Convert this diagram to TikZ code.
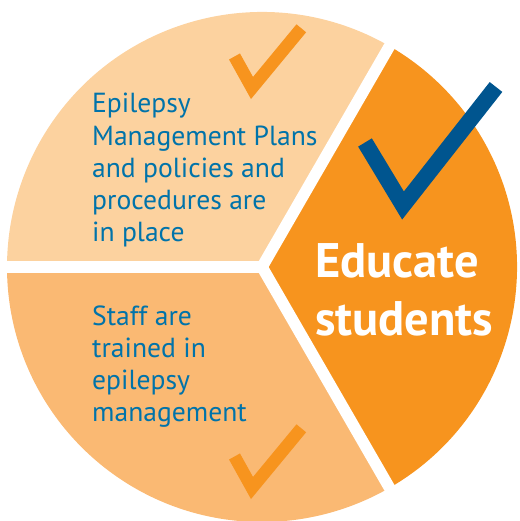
\documentclass[tikz,border=0pt]{standalone}
\usepackage{fontspec}
\setmainfont{PT Sans}
\usepackage{tikz}
\usetikzlibrary{calc}
\definecolor{peachlight}{RGB}{252,210,159}
\definecolor{peachmid}{RGB}{250,185,115}
\definecolor{orangemain}{RGB}{247,148,30}
\definecolor{textblue}{RGB}{0,115,170}
\definecolor{checkblue}{RGB}{0,85,143}

\begin{document}
\begin{tikzpicture}[
      x=1pt,y=1pt,
      gap/.style={draw=white,line width=11.5pt},
      checkmark/.style={draw=orangemain,line width=12.5pt,miter limit=10},
      bigcheck/.style={checkmark,draw=checkblue,line width=16pt},
      body/.style={align=left,anchor=base west,inner sep=0pt,text=textblue,
                   font=\fontsize{27.6}{32.3}\selectfont},
      headline/.style={align=left,anchor=base west,inner sep=0pt,text=white,
                   font=\bfseries\fontsize{48.5}{58}\selectfont}]

    \useasboundingbox (0,0) rectangle (519,521);
    \coordinate (c) at (262,254);

    \fill[peachlight] (c) -- ++(60:255) arc[start angle=60,end angle=180,radius=255] -- cycle;
    \fill[peachmid] (c) -- ++(180:255) arc[start angle=180,end angle=300,radius=255] -- cycle;
    \fill[orangemain] (c) -- ++(-60:255) arc[start angle=-60,end angle=60,radius=255] -- cycle;

    \coordinate (gapw) at ($(c)+(180:262)$);
    \coordinate (gapn) at ($(c)+(60:262)$);
    \coordinate (gaps) at ($(c)+(-60:262)$);
    \draw[gap] (c) -- (gapw);
    \draw[gap] (c) -- (gapn);
    \draw[gap] (c) -- (gaps);

    \coordinate (ta) at (234.5,464.5);
    \coordinate (tb) at (252,433);
    \coordinate (tc) at (301.3,492.7);
    \draw[checkmark] (ta) -- (tb) -- (tc);

    \coordinate (ba) at (234.5,64.5);
    \coordinate (bb) at (252,33);
    \coordinate (bc) at (301.3,92.7);
    \draw[checkmark] (ba) -- (bb) -- (bc);

    \coordinate (ea) at (365,378.5);
    \coordinate (eb) at (403,315.5);
    \coordinate (ec) at (496,434);
    \draw[bigcheck] (ea) -- (eb) -- (ec);

    \node[body] (plans) at (92,279)
      {Epilepsy\\Management Plans\\and policies and\\procedures are\\in place};
    \node[body] (staff) at (92,99)
      {Staff are\\trained in\\epilepsy\\management};
    \node[headline] (educate) at (315,185) {Educate\\students};
  \end{tikzpicture}
\end{document}
